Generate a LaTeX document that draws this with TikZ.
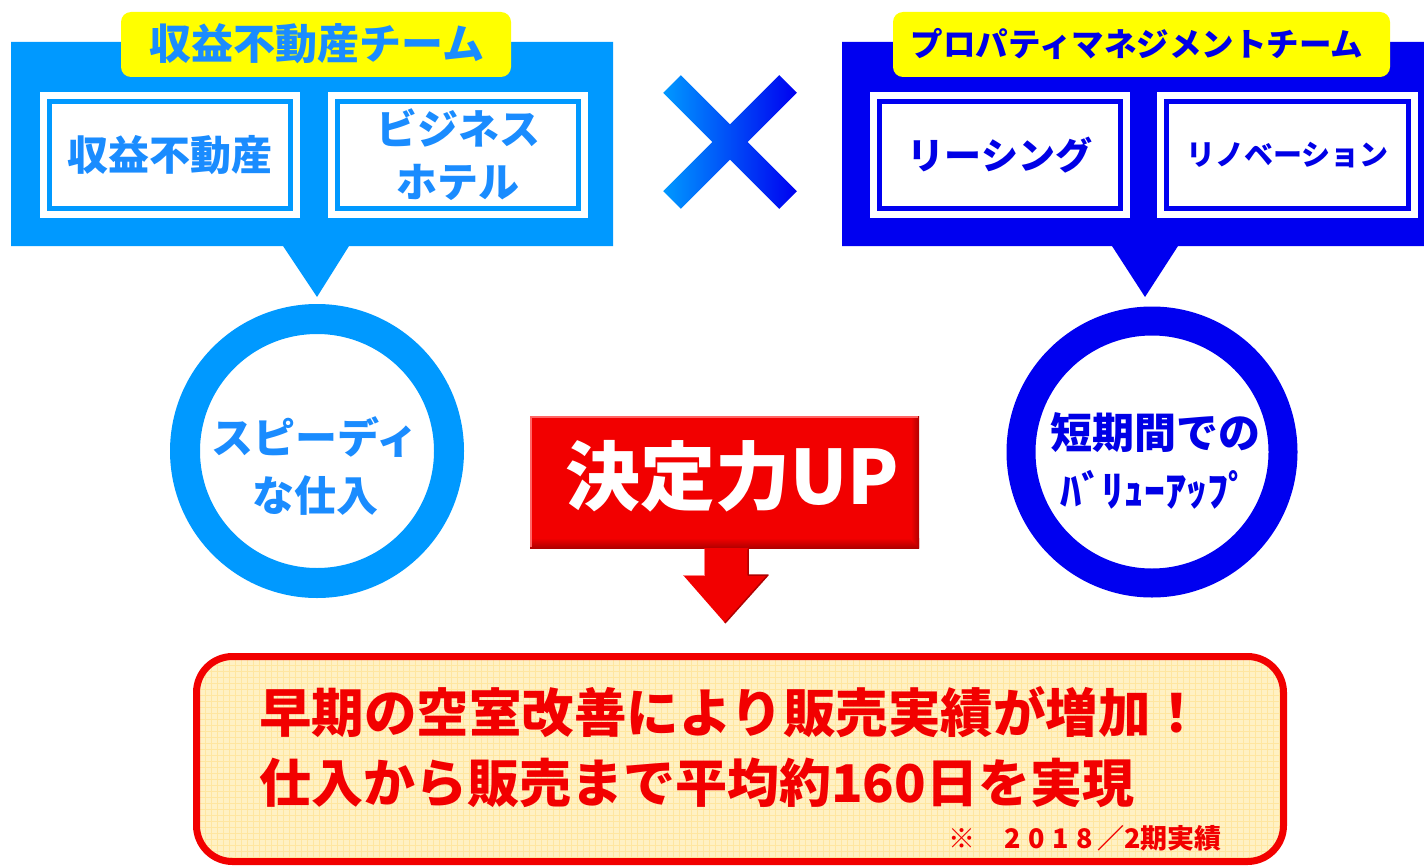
\documentclass[tikz,border=0pt]{standalone}
\usepackage{fontspec}
\newfontfamily\jp{Noto Sans CJK JP}
\definecolor{lb}{HTML}{0099FF}
\definecolor{lbt}{HTML}{1A8CFF}
\definecolor{db}{HTML}{0000F0}
\definecolor{dbt}{HTML}{0000E6}
\definecolor{ylw}{HTML}{FFFF00}
\definecolor{rd}{HTML}{F20000}
\definecolor{drd}{HTML}{B00000}
\definecolor{cream}{HTML}{FFF1C4}
\definecolor{creamline}{HTML}{FFE6A0}
\tikzset{
  tabbox/.style={fill=ylw, rounded corners=10, inner sep=0},
  outerbox/.style={fill=white, inner sep=0, minimum height=126},
  lbord/.style={draw=lb, line width=5, inner sep=0, minimum height=107, text=lbt, align=center, font=\jp\bfseries\fontsize{41}{53}\selectfont},
  rbord/.style={draw=db, line width=5, inner sep=0, minimum height=107, text=dbt, align=center, font=\jp\bfseries\fontsize{37}{45}\selectfont},
  lab/.style={inner sep=0, align=center},
}
\begin{document}
\begin{tikzpicture}[x=1pt,y=-1pt]
\useasboundingbox[fill=white] (0,0) rectangle (1424,867);

% ---------- left panel ----------
\fill[lb] (11,42) -- (613,42) -- (613,246) -- (349,246) -- (317,297) -- (283,246) -- (11,246) -- cycle;
\node[tabbox, minimum width=390, minimum height=65] (ltab) at (316,44.5) {};
\node[lab, text=lbt, font=\jp\bfseries\fontsize{42}{46}\selectfont] (ltabt) at (317,44) {収益不動産チーム};
\node[outerbox, minimum width=260] (lb1) at (170,155) {};
\node[lbord, minimum width=241] (lb1i) at (lb1) {収益不動産};
\node[outerbox, minimum width=260] (lb2) at (458,155) {};
\node[lbord, minimum width=241] (lb2i) at (lb2) {ビジネス\\ホテル};

% left circle
\draw[lb, line width=30, fill=white] (317,451) circle[radius=132];
\node[lab, text=lbt, font=\jp\bfseries\fontsize{42}{58}\selectfont] (lc) at (315,466) {スピーディ\\な仕入};

% ---------- cross ----------
\shade[left color=lb, right color=db]
  (680.8,75.2) -- (796.8,191.2) -- (779.2,208.8) -- (663.2,92.8) -- cycle
  (779.2,75.2) -- (796.8,92.8) -- (680.8,208.8) -- (663.2,191.2) -- cycle;

% ---------- right panel ----------
\fill[db] (842,42) -- (1424,42) -- (1424,246) -- (1178,246) -- (1145,297) -- (1112,246) -- (842,246) -- cycle;
\node[tabbox, minimum width=497, minimum height=65] (rtab) at (1141.5,44.5) {};
\node[lab, text=dbt, font=\jp\bfseries\fontsize{32.5}{36}\selectfont] (rtabt) at (1137,44) {プロパティマネジメントチーム};
\node[outerbox, minimum width=260] (rb1) at (1000,155) {};
\node[rbord, minimum width=241] (rb1i) at (rb1) {リーシング};
\node[outerbox, minimum width=261] (rb2) at (1287.5,155) {};
\node[rbord, minimum width=242, font=\jp\bfseries\fontsize{29}{36}\selectfont] (rb2i) at (rb2) {リノベーション};

% right circle
\draw[db, line width=29, fill=white] (1152,452) circle[radius=131];
\node[lab, text=dbt, font=\jp\bfseries\fontsize{42}{58}\selectfont] (rc) at (1155,461) {短期間での\\ﾊﾞﾘｭｰｱｯﾌﾟ};

% ---------- decision box ----------
\node[fill=rd, inner sep=0, minimum width=389, minimum height=132] (dec) at (724.5,482) {};
\shade[top color=rd, bottom color=drd] (530,538) rectangle (919,548);
\shade[left color=rd, right color=drd] (911,416) -- (919,416) -- (919,548) -- (911,540) -- cycle;
\draw[red!60!white, line width=1.2] (531,547) -- (531,417) -- (918,417);
\node[lab, text=white, font=\jp\bfseries\fontsize{75}{78}\selectfont] (dect) at (732,476) {決定力UP};

% arrow
\coordinate (atip) at (725,623);
\fill[rd] (704,548) -- (748,548) -- (748,575) -- (768,575) -- (atip) -- (683,575) -- (704,575) -- cycle;
\draw[drd, line width=1.5, line join=round] (748,549) -- (748,575) -- (768,575) -- (atip);
\draw[red!50!white, line width=1] (704,549) -- (704,575) -- (683,575);

% ---------- result box ----------
\node[fill=cream, rounded corners=36, inner sep=0, minimum width=1088, minimum height=206] (res) at (740,759) {};
\begin{scope}
\clip[rounded corners=34] (197,657) rectangle (1283,861);
\foreach \i in {199,205,...,1283} \draw[creamline, line width=0.8] (\i,657) -- (\i,861);
\foreach \j in {659,665,...,861} \draw[creamline, line width=0.8] (197,\j) -- (1283,\j);
\end{scope}
\draw[rd, line width=7, rounded corners=36] (196.5,656.5) rectangle (1283.5,861.5);
\node[lab, anchor=west, text=rd, font=\jp\bfseries\fontsize{52.5}{56}\selectfont] (r1) at (259,712) {早期の空室改善により販売実績が増加！};
\node[lab, anchor=west, text=rd, font=\jp\bfseries\fontsize{52}{56}\selectfont] (r2) at (259,783) {仕入から販売まで平均約160日を実現};
\node[lab, anchor=west, text=rd, font=\jp\bfseries\fontsize{27}{30}\selectfont] (r3) at (948,838) {※\hspace{26pt}\makebox[24pt]{2}\makebox[24pt]{0}\makebox[24pt]{1}\makebox[24pt]{8}／2期実績};
\end{tikzpicture}
\end{document}
